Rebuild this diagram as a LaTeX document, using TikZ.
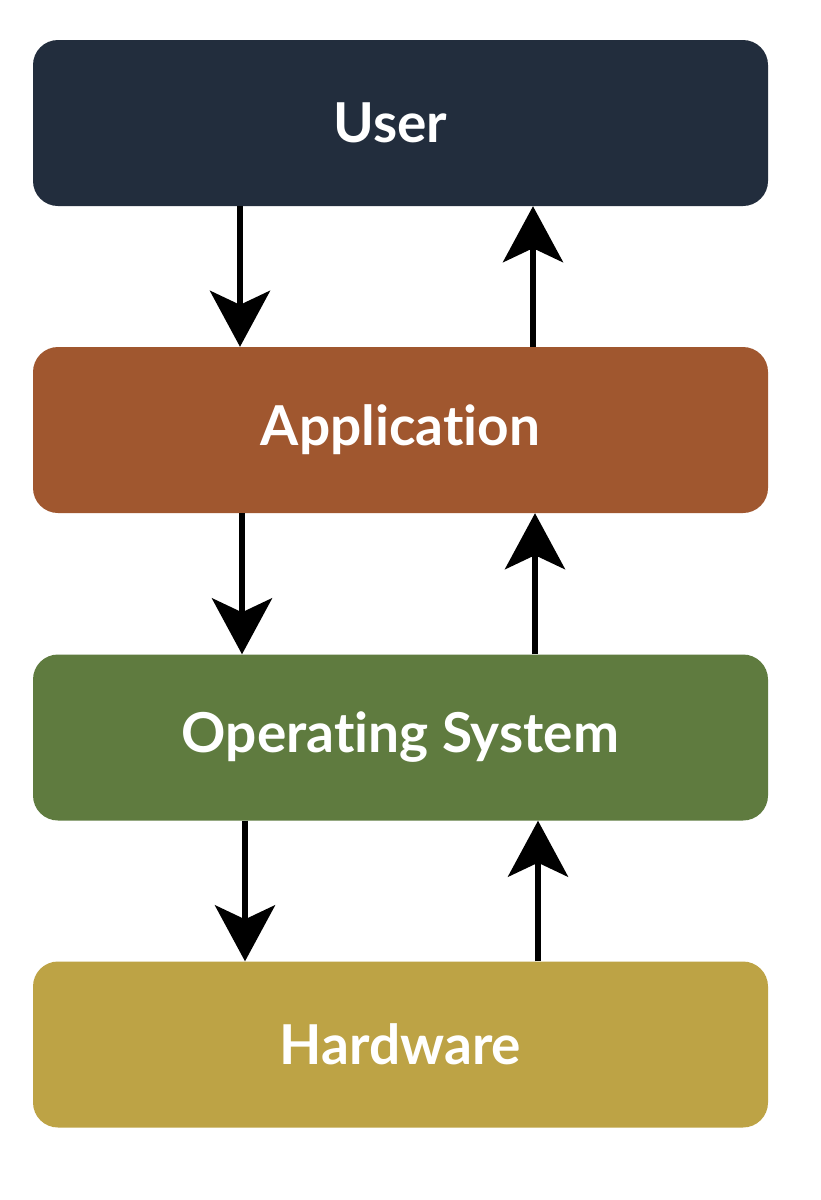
\documentclass[tikz,border=0pt]{standalone}
\usepackage{fontspec}
\setmainfont[Ligatures={NoCommon}]{Lato}
\usetikzlibrary{arrows.meta}
\definecolor{cUser}{HTML}{222D3D}
\definecolor{cApp}{HTML}{A0572F}
\definecolor{cOS}{HTML}{5F7B3F}
\definecolor{cHW}{HTML}{BDA345}
\begin{document}
\begin{tikzpicture}[x=1pt,y=-1pt,
  layer/.style={rounded corners=25pt, inner sep=0pt, minimum width=735pt, minimum height=166pt,
    text=white, font=\fontsize{55}{60}\selectfont\bfseries},
  flow/.style={line width=6pt, -{Stealth[length=56pt,width=60pt,inset=14pt]}}]
\useasboundingbox[fill=white] (0,0) rectangle (820,1200);
\node[layer, fill=cUser] (user) at (400.5,123) {\hspace*{-20pt}User};
\node[layer, fill=cApp] (app) at (400.5,430) {Application};
\node[layer, fill=cOS] (os) at (400.5,737.5) {Operating System};
\node[layer, fill=cHW] (hw) at (400.5,1044.5) {Hardware};
\coordinate (d1) at (240,0); \coordinate (u1) at (533,0);
\coordinate (d2) at (242,0); \coordinate (u2) at (535,0);
\coordinate (d3) at (245,0); \coordinate (u3) at (538,0);
\draw[flow] (user.south -| d1) -- (app.north -| d1);
\draw[flow] (app.north -| u1) -- (user.south -| u1);
\draw[flow] (app.south -| d2) -- (os.north -| d2);
\draw[flow] (os.north -| u2) -- (app.south -| u2);
\draw[flow] (os.south -| d3) -- (hw.north -| d3);
\draw[flow] (hw.north -| u3) -- (os.south -| u3);
\end{tikzpicture}
\end{document}
